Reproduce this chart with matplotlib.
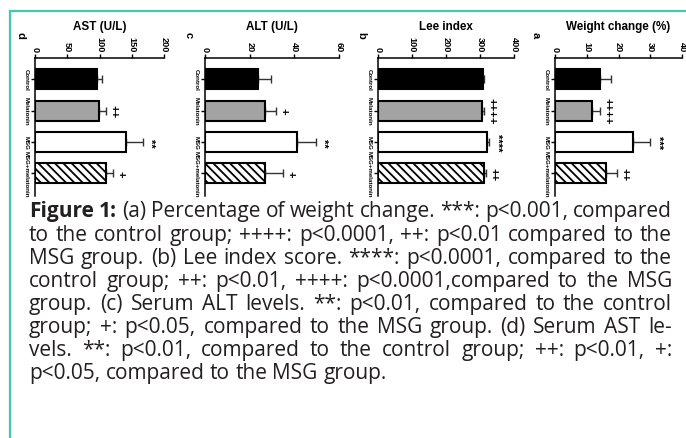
import matplotlib
matplotlib.use("Agg")
import matplotlib.pyplot as plt
from matplotlib.lines import Line2D

W, H = 686, 439

categories = ["Control", "Melatonin", "MSG", "MSG+melatonin"]

weight_mean = [14.2, 11.7, 24.6, 16.1]
weight_err = [3.5, 2.5, 5.4, 3.5]
weight_sig = ["", "++++", "***", "++"]
weight_ticks = [0, 10, 20, 30, 40]

lee_mean = [309, 306, 320, 312]
lee_err = [4, 5, 7, 6]
lee_sig = ["", "++++", "****", "++"]
lee_ticks = [0, 100, 200, 300, 400]

alt_mean = [23.7, 26.9, 41.2, 26.9]
alt_err = [5.8, 4.9, 8.5, 8.1]
alt_sig = ["", "+", "**", "+"]
alt_ticks = [0, 20, 40, 60]

ast_mean = [96, 99, 141, 110]
ast_err = [8, 11, 26, 11]
ast_sig = ["", "++", "**", "+"]
ast_ticks = [0, 50, 100, 150, 200]

caption_lines = [
    "Figure 1: (a) Percentage of weight change. ***: p<0.001, compared",
    "to the control group; ++++: p<0.0001, ++: p<0.01 compared to the",
    "MSG group. (b) Lee index score. ****: p<0.0001, compared to the",
    "control group; ++: p<0.01, ++++: p<0.0001,compared to the MSG",
    "group. (c) Serum ALT levels. **: p<0.01, compared to the control",
    "group; +: p<0.05, compared to the MSG group. (d) Serum AST le-",
    "vels. **: p<0.01, compared to the control group; ++: p<0.01, +:",
    "p<0.05, compared to the MSG group.",
]

bar_colors = ["black", "#a3a3a3", "white", "white"]
bar_hatch = [None, None, None, "\\\\\\\\"]

plt.rcParams["font.family"] = ["Liberation Sans", "DejaVu Sans"]
plt.rcParams["hatch.linewidth"] = 1.3

fig = plt.figure(figsize=(W / 100, H / 100), dpi=100)

panels = [
    ("d", "AST (U/L)", ast_mean, ast_err, ast_sig, ast_ticks, 35, 164, 20),
    ("c", "ALT (U/L)", alt_mean, alt_err, alt_sig, alt_ticks, 205, 339, 189),
    ("b", "Lee index", lee_mean, lee_err, lee_sig, lee_ticks, 378, 514, 361),
    ("a", "Weight change (%)", weight_mean, weight_err, weight_sig, weight_ticks, 555, 682, 536),
]

ytop, ybot = 58.5, 197
for letter, title, mean, err, sig, ticks, x0, x1, lx in panels:
    ax = fig.add_axes([x0 / W, 1 - ybot / H, (x1 - x0) / W, (ybot - ytop) / H])
    pos = list(range(len(categories)))
    ax.errorbar(mean, pos, xerr=[[0] * len(err), err], fmt="none", ecolor="#333333",
                elinewidth=1.0, capsize=3, capthick=1.0, zorder=1)
    for i in pos:
        ax.barh(i, mean[i], height=0.64, color=bar_colors[i], edgecolor="black",
                linewidth=1.5, hatch=bar_hatch[i], zorder=2)
        if sig[i]:
            ax.annotate(sig[i], xy=(mean[i] + err[i], i), xytext=(5.5, 0),
                        textcoords="offset points", rotation=-90, ha="center",
                        va="center", fontsize=8, fontweight="bold")
    ax.set_xlim(ticks[0], ticks[-1])
    ax.set_ylim(3.73, -0.70)
    ax.set_xticks(ticks)
    ax.set_xticklabels([str(t) for t in ticks], rotation=-90, fontsize=6.6,
                       fontweight="bold")
    ax.xaxis.tick_top()
    ax.tick_params(axis="x", length=3, width=1.0, pad=1.5)
    ax.set_yticks(pos)
    ax.set_yticklabels(categories, rotation=-90, fontsize=4.4, fontweight="bold",
                       va="center")
    ax.tick_params(axis="y", length=3, width=1.0, pad=1.5)
    for s in ["bottom", "right"]:
        ax.spines[s].set_visible(False)
    for s in ["top", "left"]:
        ax.spines[s].set_linewidth(1.1)
    ax.patch.set_alpha(0)
    fig.text((x0 + x1) / 2 / W, 1 - 27 / H, title, ha="center", va="center",
             fontsize=8.4, fontweight="bold")
    fig.text(lx / W, 1 - 35 / H, letter, ha="center", va="center", rotation=-90,
             fontsize=8, fontweight="bold")

# teal frame
teal = "#45c6b1"
fig.add_artist(Line2D([10 / W, 1], [1 - 12 / H, 1 - 12 / H], color=teal, lw=1.6,
                      transform=fig.transFigure))
fig.add_artist(Line2D([10 / W, 10 / W], [1 - 12 / H, 0], color=teal, lw=1.6,
                      transform=fig.transFigure))

# justified caption
renderer = fig.canvas.get_renderer()
left, right = 29, 672
cap_font = ["Open Sans", "DejaVu Sans"]
cap_color = "#231f20"


def natural_width(line, size):
    t = fig.text(0, 0, line, fontsize=size, family=cap_font)
    w = t.get_window_extent(renderer).width
    t.remove()
    return w


base = 12.0
scales = [(right - left) / natural_width(l, base) for l in caption_lines[:-1]]
cap_size = base * min(scales) * 0.995

for li, line in enumerate(caption_lines):
    y = 1 - (212 + 23.1 * li) / H
    words = line.split(" ")
    texts = []
    for wi, w in enumerate(words):
        bold = li == 0 and wi < 2
        t = fig.text(0, y, w, ha="left", va="center", fontsize=cap_size,
                     family=cap_font, fontweight="bold" if bold else "normal",
                     color=cap_color)
        texts.append(t)
    widths = [t.get_window_extent(renderer).width for t in texts]
    if li < len(caption_lines) - 1:
        gap = (right - left - sum(widths)) / (len(words) - 1)
    else:
        s1 = fig.text(0, 0, "a a", fontsize=cap_size, family=cap_font)
        s2 = fig.text(0, 0, "aa", fontsize=cap_size, family=cap_font)
        gap = s1.get_window_extent(renderer).width - s2.get_window_extent(renderer).width
        s1.remove()
        s2.remove()
    x = left
    for t, w in zip(texts, widths):
        t.set_x(x / W)
        x += w + gap

fig.savefig("out.png", dpi=100)
